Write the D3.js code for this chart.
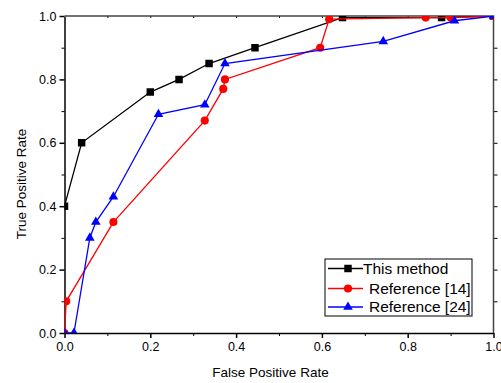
<!DOCTYPE html>
<meta charset="utf-8">
<style>
body {
  margin: 0;
  background: #fff;
  font-family: "Liberation Sans", Arial, sans-serif;
}
.axis text {
  font-size: 12.5px;
  fill: #000;
}
.axis path, .axis line {
  stroke: #000;
}
.frame {
  fill: none;
  stroke: #444;
  stroke-width: 1.5;
}
</style>
<body>
<script src="https://cdn.jsdelivr.net/npm/d3@7"></script>
<script>

var width = 501,
    height = 383;

var margin = {top: 16, right: 7.5, bottom: 50, left: 64.5};

// series names
var seriesNames = ["This method", "Reference [14]", "Reference [24]"];

// This method
var blackFPR = [0, 0.04, 0.2, 0.267, 0.337, 0.444, 0.648, 0.879, 1.0];
var blackTPR = [0.40, 0.60, 0.76, 0.80, 0.85, 0.90, 0.995, 0.995, 1.0];

// Reference [14]
var redFPR = [0, 0.004, 0.114, 0.327, 0.37, 0.374, 0.596, 0.617, 0.842, 0.90, 1.0];
var redTPR = [0, 0.10, 0.35, 0.67, 0.77, 0.80, 0.90, 0.99, 0.995, 0.995, 1.0];

// Reference [24]
var blueFPR = [0, 0.022, 0.059, 0.073, 0.114, 0.219, 0.327, 0.374, 0.743, 0.909, 1.0];
var blueTPR = [0, 0, 0.30, 0.35, 0.43, 0.69, 0.72, 0.85, 0.92, 0.985, 1.0];

var xTicks = [0, 0.2, 0.4, 0.6, 0.8, 1.0];
var yTicks = [0, 0.2, 0.4, 0.6, 0.8, 1.0];

var colors = ["#000000", "#ff0000", "#0000ff"];
var shapes = [d3.symbolSquare, d3.symbolCircle, d3.symbolTriangle];
var sizes = [56, 52, 40];

var series = [
  {name: seriesNames[0], x: blackFPR, y: blackTPR},
  {name: seriesNames[1], x: redFPR, y: redTPR},
  {name: seriesNames[2], x: blueFPR, y: blueTPR}
];

var w = width - margin.left - margin.right,
    h = height - margin.top - margin.bottom;

var x = d3.scaleLinear().domain([0, 1]).range([0, w]);
var y = d3.scaleLinear().domain([0, 1]).range([h, 0]);

var svg = d3.select("body").append("svg")
    .attr("width", width)
    .attr("height", height);

var g = svg.append("g")
    .attr("transform", "translate(" + margin.left + "," + margin.top + ")");

svg.append("defs").append("clipPath")
    .attr("id", "plot")
  .append("rect")
    .attr("width", w)
    .attr("height", h);

// minor ticks
g.append("g")
    .attr("class", "axis")
    .attr("transform", "translate(0," + h + ")")
    .call(d3.axisBottom(x).tickValues([0.1, 0.3, 0.5, 0.7, 0.9]).tickSize(3).tickFormat(""))
    .select(".domain").remove();
g.append("g")
    .attr("class", "axis")
    .call(d3.axisLeft(y).tickValues([0.1, 0.3, 0.5, 0.7, 0.9]).tickSize(3).tickFormat(""))
    .select(".domain").remove();
g.append("g")
    .attr("class", "axis")
    .attr("transform", "translate(" + w + ",0)")
    .call(d3.axisRight(y).tickValues(d3.range(0.1, 1, 0.1)).tickSize(4).tickFormat(""))
    .select(".domain").remove();
g.append("g")
    .attr("class", "axis")
    .call(d3.axisBottom(x).tickValues(d3.range(0.1, 1, 0.1)).tickSize(2).tickFormat(""))
    .select(".domain").remove();

// major axes
var xAxis = g.append("g")
    .attr("class", "axis")
    .attr("transform", "translate(0," + h + ")")
    .call(d3.axisBottom(x).tickValues(xTicks).tickSize(5).tickSizeOuter(0).tickPadding(4).tickFormat(d3.format(".1f")));

var yAxis = g.append("g")
    .attr("class", "axis")
    .call(d3.axisLeft(y).tickValues(yTicks).tickSize(5).tickSizeOuter(0).tickPadding(3).tickFormat(d3.format(".1f")));

xAxis.selectAll("path, line").attr("stroke-width", 1.5);
yAxis.selectAll("path, line").attr("stroke-width", 1.5);

// top and right border
g.append("path")
    .attr("class", "frame")
    .attr("d", "M0,0H" + w + "V" + h);

var plot = g.append("g").attr("clip-path", "url(#plot)");

var line = d3.line()
    .x(function(d) { return x(d[0]); })
    .y(function(d) { return y(d[1]); });

series.forEach(function(s, i) {
  var pts = d3.zip(s.x, s.y);
  plot.append("path")
      .datum(pts)
      .attr("fill", "none")
      .attr("stroke", colors[i])
      .attr("stroke-width", 1.3)
      .attr("d", line);
  plot.selectAll(".m" + i)
      .data(pts)
    .enter().append("path")
      .attr("class", "m" + i)
      .attr("fill", colors[i])
      .attr("d", d3.symbol().type(shapes[i]).size(sizes[i]))
      .attr("transform", function(d) { return "translate(" + x(d[0]) + "," + y(d[1]) + ")"; });
});

// legend
var legend = svg.append("g")
    .attr("transform", "translate(325,259)");

legend.append("rect")
    .attr("width", 147)
    .attr("height", 57)
    .attr("fill", "#fff")
    .attr("stroke", "#000")
    .attr("stroke-width", 1);

var rows = [9.5, 29.5, 48];
var textX = [38, 44, 44];

series.forEach(function(s, i) {
  var row = legend.append("g").attr("transform", "translate(0," + rows[i] + ")");
  row.append("line")
      .attr("x1", 3).attr("x2", 38)
      .attr("stroke", colors[i])
      .attr("stroke-width", 1.3);
  row.append("path")
      .attr("transform", "translate(23,0)")
      .attr("fill", colors[i])
      .attr("d", d3.symbol().type(shapes[i]).size(sizes[i]));
  row.append("text")
      .attr("x", textX[i])
      .attr("dy", "0.35em")
      .style("font-size", "15.5px")
      .text(s.name);
});

// axis titles
svg.append("text")
    .attr("x", 270.5)
    .attr("y", 377)
    .attr("text-anchor", "middle")
    .style("font-size", "13.5px")
    .text("False Positive Rate");

svg.append("text")
    .attr("transform", "translate(26,184) rotate(-90)")
    .attr("text-anchor", "middle")
    .style("font-size", "13.5px")
    .text("True Positive Rate");

</script>
